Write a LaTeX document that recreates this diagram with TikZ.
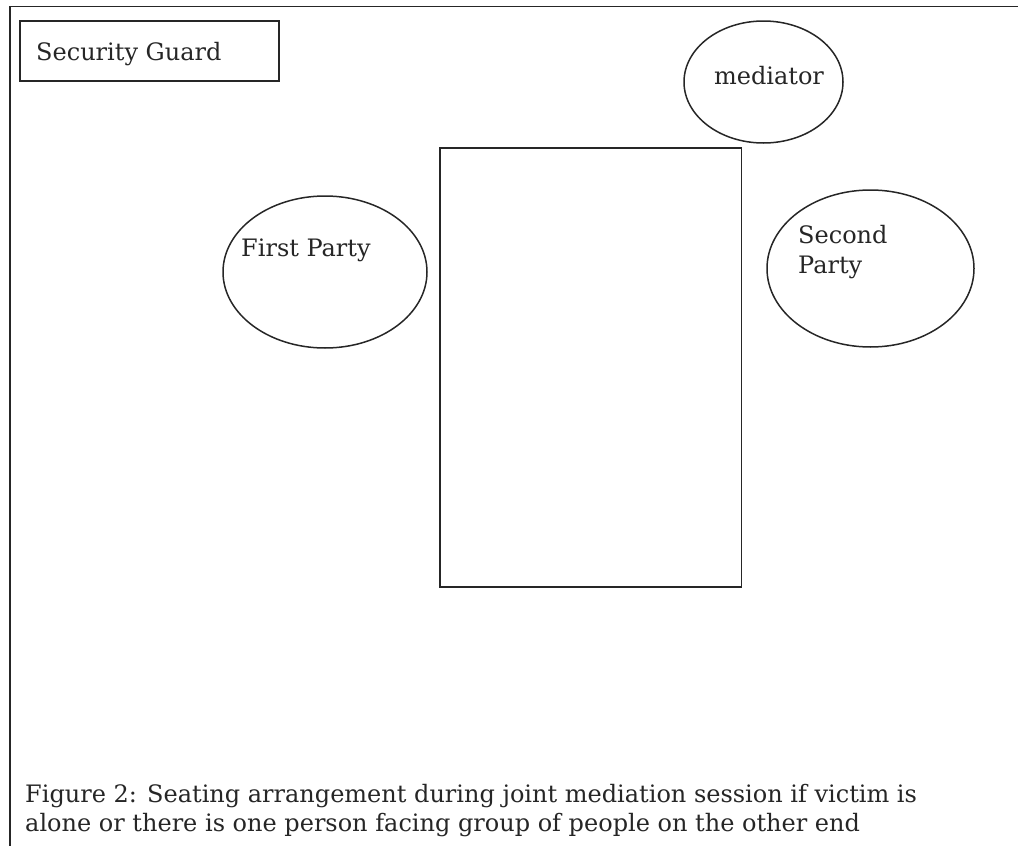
\documentclass[tikz,border=0pt]{standalone}
\usepackage{fontspec}
\setmainfont{DejaVu Serif}
\usetikzlibrary{shapes.geometric}
\begin{document}
\begin{tikzpicture}[x=1pt,y=-1pt,
  line/.style={line width=1.5pt,draw=black!85},
  lbl/.style={font=\fontsize{24}{30}\selectfont,inner sep=0pt,text=black!85},
  seat/.style={line, ellipse, inner sep=0pt}]
\useasboundingbox (0,0) rectangle (1018,846);
% frame
\coordinate (ftr) at (1018,6.5);
\coordinate (ftl) at (10,6.5);
\coordinate (fbl) at (10,846);
\draw[line] (ftr) -- (ftl) -- (fbl);
% security guard
\node[line, rectangle, minimum width=259pt, minimum height=60pt, inner sep=0pt] (guard) at (149.5,51) {};
\node[lbl, anchor=base west] (guardtxt) at (36,60) {Security Guard};
% mediator
\node[seat, minimum width=159pt, minimum height=122pt] (med) at (763.5,82) {};
\node[lbl] (medtxt) at (769,76) {mediator};
% table
\node[line, rectangle, minimum width=301.5pt, minimum height=439pt, inner sep=0pt] (table) at (590.75,367.5) {};
% first party
\node[seat, minimum width=204pt, minimum height=152pt] (first) at (325,272) {};
\node[lbl, anchor=base west] (firsttxt) at (241,256) {First Party};
% second party
\node[seat, minimum width=207pt, minimum height=157pt] (second) at (870.5,268.5) {};
\node[lbl, anchor=base west] (secondtxt) at (798,243) {Second};
\node[lbl, anchor=base west] (secondtxt2) at (798,273) {Party};
% caption
\node[lbl, anchor=base west] (cap1) at (25,802) {Figure 2: Seating arrangement during joint mediation session if victim is};
\node[lbl, anchor=base west] (cap2) at (25,831) {alone or there is one person facing group of people on the other end};
\end{tikzpicture}
\end{document}
